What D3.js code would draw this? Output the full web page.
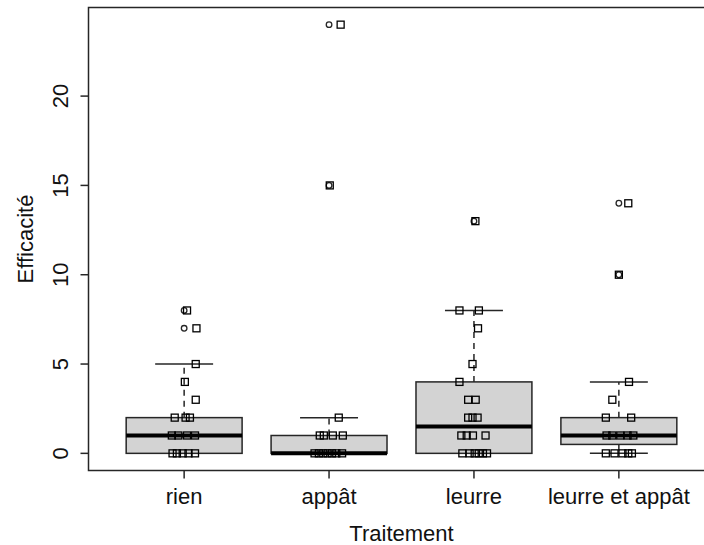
<!DOCTYPE html>
<html>
<head>
<meta charset="utf-8">
<script src="https://cdn.jsdelivr.net/npm/d3@7"></script>
<style>
body { margin: 0; background: white; }
text { font-family: "Liberation Sans", Arial, sans-serif; fill: #111; }
</style>
</head>
<body>
<script>
const width = 704
const height = 545

// groups and boxplot statistics
const categories = ["rien", "appât", "leurre", "leurre et appât"]
const lowerWhisker = [0, 0, 0, 0]
const q1 = [0, 0, 0, 0.5]
const median = [1, 0, 1.5, 1]
const q3 = [2, 1, 4, 2]
const upperWhisker = [5, 2, 8, 4]
const outliers = [[7, 8], [15, 24], [13], [10, 14]]

// jittered raw points (value, horizontal jitter in group units)
const pointValues = [
    [8, 7, 5, 4, 3, 2, 2, 2, 1, 1, 1, 1, 0, 0, 0, 0, 0],
    [24, 15, 2, 1, 1, 1, 1, 0, 0, 0, 0, 0, 0, 0],
    [13, 8, 8, 7, 5, 4, 3, 3, 2, 2, 2, 1, 1, 1, 1, 0, 0, 0, 0, 0, 0],
    [14, 10, 4, 3, 2, 2, 1, 1, 1, 1, 1, 0, 0, 0, 0, 0],
]
const pointJitter = [
    [0.02, 0.085, 0.08, 0.005, 0.08, -0.065, 0.01, 0.04, -0.085, -0.04, 0.02, 0.075, -0.08, -0.05, -0.01, 0.03, 0.075],
    [0.08, 0.005, 0.067, -0.064, -0.036, 0.026, 0.095, -0.1, -0.07, -0.04, -0.01, 0.02, 0.05, 0.09],
    [0.01, -0.1, 0.034, 0.028, -0.01, -0.1, -0.04, 0.012, -0.04, -0.01, 0.025, -0.087, -0.05, -0.007, 0.08, -0.08, -0.03, 0.005, 0.033, 0.062, 0.09],
    [0.065, 0, 0.07, -0.045, -0.09, 0.085, -0.085, -0.045, 0.01, 0.06, 0.1, -0.09, -0.03, 0.025, 0.065, 0.09],
]
const yTicks = [0, 5, 10, 15, 20]

const plot = {left: 88.5, right: 714.5, top: 7.5, bottom: 470.5}

const x = d3.scaleLinear().domain([0.34, 4.66]).range([plot.left, plot.right])
const y = d3.scaleLinear().domain([-0.96, 24.96]).range([plot.bottom, plot.top])

const svg = d3.select("body").append("svg")
    .attr("width", width)
    .attr("height", height)

const boxWidth = x(0.8) - x(0)
const capWidth = x(0.4) - x(0)
const ink = "#262626"
const fontSize = "22px"

const groups = svg.selectAll("g.group")
    .data(categories.map((c, i) => ({c, i, pos: i + 1})))
    .enter()
    .append("g")
    .attr("class", "group")

// whiskers (dashed)
groups.append("line")
    .attr("x1", d => x(d.pos)).attr("x2", d => x(d.pos))
    .attr("y1", d => y(q3[d.i])).attr("y2", d => y(upperWhisker[d.i]))
    .attr("stroke", ink).attr("stroke-width", 1.5).attr("stroke-dasharray", "6,5")
groups.append("line")
    .attr("x1", d => x(d.pos)).attr("x2", d => x(d.pos))
    .attr("y1", d => y(q1[d.i])).attr("y2", d => y(lowerWhisker[d.i]))
    .attr("stroke", ink).attr("stroke-width", 1.5).attr("stroke-dasharray", "6,5")
// caps
groups.selectAll("line.cap")
    .data(d => [upperWhisker[d.i], lowerWhisker[d.i]].map(v => ({pos: d.pos, v})))
    .enter()
    .append("line")
    .attr("class", "cap")
    .attr("x1", d => x(d.pos) - capWidth / 2).attr("x2", d => x(d.pos) + capWidth / 2)
    .attr("y1", d => y(d.v)).attr("y2", d => y(d.v))
    .attr("stroke", ink).attr("stroke-width", 1.5)
// box
groups.append("rect")
    .attr("x", d => x(d.pos) - boxWidth / 2)
    .attr("width", boxWidth)
    .attr("y", d => y(q3[d.i]))
    .attr("height", d => y(q1[d.i]) - y(q3[d.i]))
    .attr("fill", "#d3d3d3")
    .attr("stroke", ink).attr("stroke-width", 1.5)
// median
groups.append("line")
    .attr("x1", d => x(d.pos) - boxWidth / 2).attr("x2", d => x(d.pos) + boxWidth / 2)
    .attr("y1", d => y(median[d.i])).attr("y2", d => y(median[d.i]))
    .attr("stroke", "black").attr("stroke-width", 4)
// outliers
groups.selectAll("circle.out")
    .data(d => outliers[d.i].map(v => ({pos: d.pos, v})))
    .enter()
    .append("circle")
    .attr("class", "out")
    .attr("cx", d => x(d.pos)).attr("cy", d => y(d.v))
    .attr("r", 2.8)
    .attr("fill", "none").attr("stroke", ink).attr("stroke-width", 1.3)
// jittered squares
const sq = 7
groups.selectAll("rect.pt")
    .data(d => pointValues[d.i].map((v, k) => ({pos: d.pos + pointJitter[d.i][k], v})))
    .enter()
    .append("rect")
    .attr("class", "pt")
    .attr("x", d => x(d.pos) - sq / 2).attr("y", d => y(d.v) - sq / 2)
    .attr("width", sq).attr("height", sq)
    .attr("fill", "none").attr("stroke", "black").attr("stroke-width", 1.3)

// frame
svg.append("rect")
    .attr("x", plot.left).attr("y", plot.top)
    .attr("width", plot.right - plot.left).attr("height", plot.bottom - plot.top)
    .attr("fill", "none").attr("stroke", ink).attr("stroke-width", 1.5)

// y axis
const yAxis = svg.append("g")
yAxis.selectAll("line").data(yTicks).enter().append("line")
    .attr("x1", plot.left - 8).attr("x2", plot.left)
    .attr("y1", d => y(d)).attr("y2", d => y(d))
    .attr("stroke", ink).attr("stroke-width", 1.5)
yAxis.selectAll("text").data(yTicks).enter().append("text")
    .attr("transform", d => `translate(68,${y(d)}) rotate(-90)`)
    .attr("text-anchor", "middle")
    .style("font-size", fontSize)
    .text(d => d)

// x axis
const xAxis = svg.append("g")
xAxis.selectAll("line").data(categories).enter().append("line")
    .attr("x1", (d, i) => x(i + 1)).attr("x2", (d, i) => x(i + 1))
    .attr("y1", plot.bottom).attr("y2", plot.bottom + 8)
    .attr("stroke", ink).attr("stroke-width", 1.5)
xAxis.selectAll("text").data(categories).enter().append("text")
    .attr("x", (d, i) => x(i + 1)).attr("y", 504)
    .attr("text-anchor", "middle")
    .style("font-size", fontSize)
    .text(d => d)

// axis titles
svg.append("text")
    .attr("x", (plot.left + plot.right) / 2).attr("y", 540.5)
    .attr("text-anchor", "middle")
    .style("font-size", fontSize)
    .text("Traitement")
svg.append("text")
    .attr("transform", `translate(33,${(plot.top + plot.bottom) / 2}) rotate(-90)`)
    .attr("text-anchor", "middle")
    .style("font-size", fontSize)
    .text("Efficacité")
</script>
</body>
</html>
